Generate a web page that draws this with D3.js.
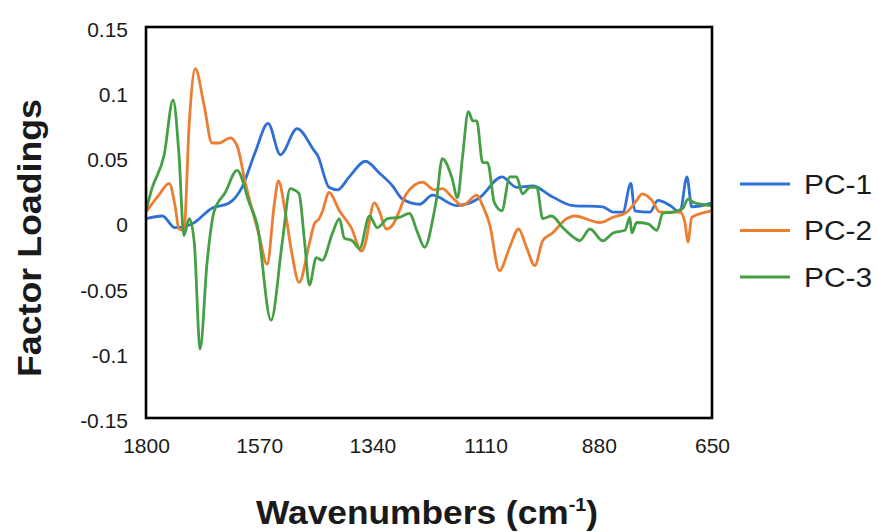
<!DOCTYPE html>
<html>
<head>
<meta charset="utf-8">
<script src="https://cdn.jsdelivr.net/npm/d3@7"></script>
<style>
  html, body { margin: 0; padding: 0; background: #fff; }
  svg { display: block; }
  text { font-family: "Liberation Sans", Arial, sans-serif; fill: #1a1a1a; }
</style>
</head>
<body>
<svg id="chart" width="879" height="532"></svg>
<script>
// ---- data (wavenumber, loading) ----
const seriesNames = ["PC-1", "PC-2", "PC-3"];
const xTicks = [1800, 1570, 1340, 1110, 880, 650];
const yTicks = [0.15, 0.1, 0.05, 0, -0.05, -0.1, -0.15];

const pc1 = [
  [1800,0.003],[1767,0.005],[1741,-0.004],[1706,-0.001],[1666,0.011],[1631,0.015],
  [1605,0.027],[1578,0.054],[1552,0.076],[1527,0.052],[1493,0.072],[1458,0.055],
  [1452,0.052],[1428,0.027],[1411,0.025],[1387,0.035],[1354,0.047],[1326,0.038],
  [1299,0.028],[1279,0.018],[1244,0.014],[1218,0.021],[1169,0.013],[1122,0.019],
  [1077,0.035],[1047,0.027],[1014,0.028],[980,0.021],[933,0.013],[872,0.012],
  [851,0.008],[831,0.008],[815,0.030],[807,0.009],[776,0.008],[760,0.017],
  [735,0.013],[715,0.008],[701,0.035],[691,0.012],[650,0.015]
];
const pc2 = [
  [1800,0.008],[1774,0.021],[1753,0.030],[1741,0.013],[1733,-0.005],[1723,-0.006],
  [1712,0.077],[1700,0.118],[1682,0.090],[1666,0.061],[1651,0.061],[1629,0.065],
  [1615,0.059],[1598,0.030],[1570,-0.010],[1554,-0.032],[1539,0.015],[1531,0.032],
  [1517,0.008],[1503,-0.025],[1489,-0.046],[1468,-0.016],[1458,-0.001],[1448,0.003],
  [1442,0.008],[1428,0.023],[1407,0.009],[1383,-0.004],[1362,-0.022],[1356,-0.018],
  [1336,0.015],[1326,0.009],[1312,-0.005],[1299,-0.002],[1285,0.009],[1271,0.022],
  [1238,0.031],[1214,0.025],[1198,0.026],[1177,0.019],[1157,0.013],[1128,0.021],
  [1116,0.013],[1102,-0.001],[1082,-0.037],[1061,-0.019],[1043,-0.005],[1027,-0.019],
  [1010,-0.033],[994,-0.014],[974,-0.008],[945,0.003],[929,0.005],[878,0.000],
  [851,0.004],[823,0.008],[803,0.017],[792,0.022],[772,0.017],[756,0.008],
  [715,0.008],[705,0.000],[699,-0.015],[691,0.004],[650,0.009]
];
const pc3 = [
  [1800,0.009],[1788,0.026],[1763,0.052],[1745,0.094],[1733,0.052],[1723,-0.010],
  [1712,0.003],[1702,-0.015],[1690,-0.097],[1676,-0.031],[1662,0.008],[1639,0.023],
  [1615,0.040],[1590,0.015],[1574,-0.002],[1546,-0.075],[1523,-0.015],[1507,0.026],
  [1499,0.025],[1489,0.022],[1478,-0.014],[1468,-0.048],[1454,-0.027],[1442,-0.029],
  [1421,-0.008],[1407,0.003],[1397,-0.012],[1381,-0.014],[1366,-0.020],[1346,0.005],
  [1330,-0.004],[1309,0.003],[1285,0.004],[1265,0.007],[1248,-0.008],[1234,-0.019],
  [1214,0.009],[1210,0.017],[1198,0.049],[1179,0.035],[1167,0.019],[1157,0.050],
  [1145,0.085],[1136,0.078],[1128,0.078],[1116,0.046],[1106,0.046],[1092,0.015],
  [1077,0.009],[1061,0.035],[1047,0.035],[1035,0.022],[1020,0.027],[1006,0.027],
  [994,0.003],[976,0.005],[953,-0.004],[929,-0.012],[919,-0.014],[898,-0.005],
  [872,-0.014],[851,-0.008],[827,-0.006],[817,0.004],[813,-0.008],[803,0.000],
  [780,-0.001],[762,-0.006],[750,0.007],[729,0.008],[709,0.011],[699,0.018],
  [685,0.015],[650,0.013]
];
const seriesData = [pc1, pc2, pc3];
const colors = ["#2f6fd6", "#ed7d31", "#45a045"];

// ---- layout ----
const plot = { left: 146, right: 712, top: 27, bottom: 418 };
const svg = d3.select("#chart");

const x = d3.scaleLinear().domain([1800, 650]).range([plot.left, plot.right]);
const y = d3.scaleLinear().domain([-0.15, 0.15]).range([plot.bottom, plot.top]);

svg.append("clipPath").attr("id", "clip")
  .append("rect").attr("x", plot.left).attr("y", plot.top)
  .attr("width", plot.right - plot.left).attr("height", plot.bottom - plot.top);

// y axis labels
const yAxis = d3.axisLeft(y).tickValues(yTicks).tickSize(0).tickPadding(18)
  .tickFormat(d => d === 0 ? "0" : String(+d.toFixed(2)));
const gy = svg.append("g").attr("transform", `translate(${plot.left},0)`).call(yAxis);
gy.select(".domain").remove();
gy.selectAll("text").attr("font-size", 21).attr("dy", "0.45em")
  .style("font-family", "'Liberation Sans', Arial, sans-serif").attr("fill", "#1a1a1a");

// x axis labels
const xAxis = d3.axisBottom(x).tickValues(xTicks).tickSize(0).tickPadding(20)
  .tickFormat(d3.format("d"));
const gx = svg.append("g").attr("transform", `translate(0,${plot.bottom})`).call(xAxis);
gx.select(".domain").remove();
gx.selectAll("text").attr("font-size", 21)
  .style("font-family", "'Liberation Sans', Arial, sans-serif").attr("fill", "#1a1a1a");

// lines
const line = d3.line().x(d => x(d[0])).y(d => y(d[1])).curve(d3.curveMonotoneX);
const gl = svg.append("g").attr("clip-path", "url(#clip)");
seriesData.forEach((s, i) => {
  gl.append("path").datum(s).attr("d", line)
    .attr("fill", "none").attr("stroke", colors[i])
    .attr("stroke-width", 2.8).attr("stroke-linejoin", "round").attr("stroke-linecap", "round");
});

// frame
svg.append("rect").attr("x", plot.left).attr("y", plot.top)
  .attr("width", plot.right - plot.left).attr("height", plot.bottom - plot.top)
  .attr("fill", "none").attr("stroke", "#000").attr("stroke-width", 2.6);

// legend
const legend = svg.append("g");
seriesNames.forEach((name, i) => {
  const ly = 184 + i * 46.5;
  legend.append("line").attr("x1", 740).attr("x2", 790).attr("y1", ly).attr("y2", ly)
    .attr("stroke", colors[i]).attr("stroke-width", 2.8);
  legend.append("text").attr("x", 804).attr("y", ly).attr("dy", "0.36em")
    .attr("font-size", 27).attr("textLength", 68).attr("lengthAdjust", "spacingAndGlyphs")
    .text(name);
});

// axis titles
svg.append("text")
  .attr("transform", "translate(41,238) rotate(-90)")
  .attr("text-anchor", "middle").attr("font-size", 34).attr("font-weight", "bold")
  .attr("textLength", 278).attr("lengthAdjust", "spacingAndGlyphs")
  .text("Factor Loadings");

const xt = svg.append("text").attr("x", 256).attr("y", 524)
  .attr("font-size", 34).attr("font-weight", "bold")
  .attr("textLength", 342).attr("lengthAdjust", "spacingAndGlyphs");
xt.append("tspan").text("Wavenumbers (cm");
xt.append("tspan").attr("font-size", 19).attr("dy", -13).text("-1");
xt.append("tspan").attr("dy", 13).text(")");
</script>
</body>
</html>
